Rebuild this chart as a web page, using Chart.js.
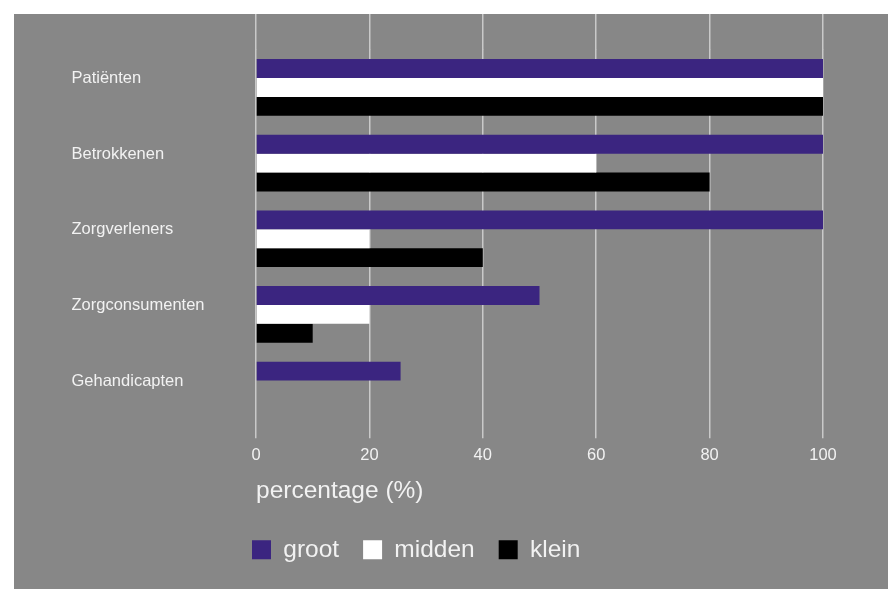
<!DOCTYPE html>
<html>
<head>
<meta charset="utf-8">
<script src="https://cdn.jsdelivr.net/npm/chart.js@4.4.1/dist/chart.umd.min.js"></script>
<style>
  body { margin: 0; background: #fff; }
  #panel { position: absolute; left: 14px; top: 14px; width: 874px; height: 575px; background: #878787; }
</style>
</head>
<body>
<div id="panel"><canvas id="chart"></canvas></div>
<script>
const categories = ["Patiënten", "Betrokkenen", "Zorgverleners", "Zorgconsumenten", "Gehandicapten"];
const groot = [100, 100, 100, 50, 25.5];
const midden = [100, 60, 20, 20, null];
const klein = [100, 80, 40, 10, null];
const xTicks = [0, 20, 40, 60, 80, 100];

const textColor = "#f2f2f2";
const gridColor = "#c9c9c9";

// legend starts under the value axis instead of at the canvas edge
const legendUnderAxis = {
  id: "legendUnderAxis",
  afterLayout(chart) {
    const pad = chart.options.plugins.legend.labels.padding;
    chart.legend.left = chart.chartArea.left - pad - 4;
  }
};

Chart.defaults.font.family = '"Liberation Sans", Arial, sans-serif';

new Chart(document.getElementById("chart"), {
  type: "bar",
  data: {
    labels: categories,
    datasets: [
      { label: "groot", data: groot, backgroundColor: "#3b2580" },
      { label: "midden", data: midden, backgroundColor: "#ffffff" },
      { label: "klein", data: klein, backgroundColor: "#000000" },
    ],
  },
  options: {
    indexAxis: "y",
    responsive: true,
    maintainAspectRatio: false,
    animation: false,
    datasets: {
      bar: { categoryPercentage: 0.75, barPercentage: 1.0, borderWidth: 0 },
    },
    layout: {
      padding: { left: 57.5, right: 65, top: 0, bottom: 17 },
    },
    scales: {
      x: {
        min: 0,
        max: 100,
        afterBuildTicks: (s) => { s.ticks = xTicks.map((v) => ({ value: v })); },
        grid: { color: gridColor, lineWidth: 1.5, tickLength: 10.4 },
        border: { display: false },
        ticks: { color: textColor, font: { size: 16.5 }, padding: 7 },
        title: {
          display: true,
          text: "percentage (%)",
          align: "start",
          color: textColor,
          font: { size: 24.5 },
          padding: { top: 4, bottom: 8 },
        },
      },
      // only used to run the grid lines up to the top edge
      x2: {
        position: "top",
        min: 0,
        max: 100,
        afterBuildTicks: (s) => { s.ticks = xTicks.map((v) => ({ value: v })); },
        grid: { color: gridColor, lineWidth: 1.5, tickLength: 35.6, drawOnChartArea: false },
        border: { display: false },
        ticks: { display: false },
      },
      y: {
        grid: { display: false },
        border: { display: false },
        afterFit: (s) => { s.width = 184.5; },
        ticks: {
          color: textColor,
          font: { size: 16.5 },
          crossAlign: "far",
          labelOffset: -9,
        },
      },
    },
    plugins: {
      tooltip: { enabled: false },
      legend: {
        position: "bottom",
        align: "start",
        labels: {
          color: textColor,
          font: { size: 24.5 },
          boxWidth: 19,
          boxHeight: 19,
          padding: 24,
        },
      },
    },
  },
  plugins: [legendUnderAxis],
});
</script>
</body>
</html>
